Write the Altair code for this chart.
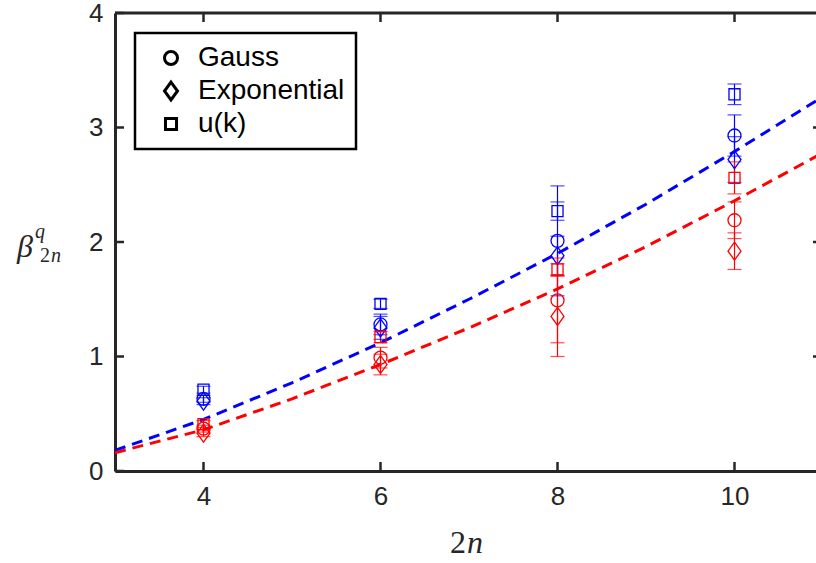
import altair as alt
import pandas as pd

# ---------------- data ----------------
x_pts = [4, 6, 8, 10]
dists = ["Gauss", "Exponential", "u(k)"]

blue_gauss = [0.63, 1.28, 2.01, 2.93]
blue_gauss_err = [0.03, 0.09, 0.48, 0.18]
blue_exp = [0.61, 1.25, 1.88, 2.72]
blue_exp_err = [0.03, 0.10, 0.17, 0.20]
blue_uk = [0.71, 1.46, 2.27, 3.29]
blue_uk_err = [0.03, 0.04, 0.08, 0.09]

red_gauss = [0.37, 0.99, 1.49, 2.19]
red_gauss_err = [0.03, 0.09, 0.37, 0.16]
red_exp = [0.33, 0.93, 1.35, 1.92]
red_exp_err = [0.03, 0.09, 0.35, 0.16]
red_uk = [0.41, 1.17, 1.76, 2.56]
red_uk_err = [0.03, 0.05, 0.05, 0.14]

fit_x = [3, 4, 5, 6, 7, 8, 9, 10, 11]
blue_fit = [0.18, 0.45, 0.77, 1.12, 1.50, 1.90, 2.33, 2.79, 3.27]
red_fit = [0.16, 0.36, 0.63, 0.93, 1.25, 1.59, 1.96, 2.36, 2.78]

x_ticks = [4, 6, 8, 10]
y_ticks = [0, 1, 2, 3, 4]

# ---------------- tables ----------------
rows = []
for series, groups in [
    ("blue", [(blue_gauss, blue_gauss_err), (blue_exp, blue_exp_err), (blue_uk, blue_uk_err)]),
    ("red", [(red_gauss, red_gauss_err), (red_exp, red_exp_err), (red_uk, red_uk_err)]),
]:
    for dist, (vals, errs) in zip(dists, groups):
        for xv, yv, ev in zip(x_pts, vals, errs):
            rows.append({"x": xv, "y": yv, "lo": yv - ev, "hi": yv + ev,
                         "series": series, "dist": dist})
pts = pd.DataFrame(rows)
caps = pd.concat([
    pts.assign(yc=pts["lo"]),
    pts.assign(yc=pts["hi"]),
])

fits = pd.DataFrame(
    [{"x": xv, "y": yv, "series": "blue"} for xv, yv in zip(fit_x, blue_fit)]
    + [{"x": xv, "y": yv, "series": "red"} for xv, yv in zip(fit_x, red_fit)]
)

# ---------------- layout ----------------
W, H = 701, 458
PX_PER_X = 88.5
PX_PER_Y = H / 4.0
XMAX = 3 + W / PX_PER_X
AX = "#262626"
TL = 9  # inward tick length (px)

xs = alt.Scale(domain=[3, XMAX], nice=False, zero=False)
ys = alt.Scale(domain=[0, 4], nice=False, zero=True)
col = alt.Color("series:N", scale=alt.Scale(domain=["blue", "red"], range=["#0000ff", "#ff0000"]),
                legend=None)

diamond = "M0,-1.38L1,0L0,1.38L-1,0Z"
square = "M-0.85,-0.85H0.85V0.85H-0.85Z"
shape_scale = alt.Scale(domain=dists, range=["circle", diamond, square])

x_axis = alt.Axis(values=x_ticks, format="d", title=None, grid=False, ticks=False, labelFontSize=26,
                  labelFont="Liberation Sans", labelColor=AX, labelPadding=12,
                  domainColor=AX, domainWidth=3)
y_axis = alt.Axis(values=y_ticks, format="d", title=None, grid=False, ticks=False, labelFontSize=26,
                  labelFont="Liberation Sans", labelColor=AX, labelPadding=12,
                  domainColor=AX, domainWidth=3)

base_pts = alt.Chart(pts)

lines = alt.Chart(fits).mark_line(strokeDash=[11, 7], strokeWidth=3, clip=True).encode(
    x=alt.X("x:Q", scale=xs, axis=x_axis),
    y=alt.Y("y:Q", scale=ys, axis=y_axis),
    color=col,
    detail="series:N",
)

err = base_pts.mark_rule(strokeWidth=1.2).encode(
    x=alt.X("x:Q", scale=xs),
    y=alt.Y("lo:Q", scale=ys),
    y2="hi:Q",
    color=col,
)

cap = alt.Chart(caps).mark_tick(orient="horizontal", size=14, thickness=1.2).encode(
    x=alt.X("x:Q", scale=xs),
    y=alt.Y("yc:Q", scale=ys),
    color=col,
)

marks = base_pts.mark_point(filled=False, strokeWidth=1.3, size=169, opacity=1).encode(
    x=alt.X("x:Q", scale=xs),
    y=alt.Y("y:Q", scale=ys),
    color=col,
    shape=alt.Shape("dist:N", scale=shape_scale, sort=dists, legend=alt.Legend(
        title=None, orient="none", legendX=20, legendY=20, direction="vertical",
        fillColor="white", strokeColor="black", padding=11,
        labelFont="Liberation Sans", labelFontSize=28, labelColor="black",
        symbolStrokeColor="black", symbolStrokeWidth=3, symbolFillColor="transparent",
        symbolSize=169, symbolOffset=11, labelOffset=13, rowPadding=4,
    )),
)

one = pd.DataFrame({"k": [0]})

top_spine = alt.Chart(one).mark_rule(color=AX, strokeWidth=3).encode(
    x=alt.value(0), x2=alt.value(W), y=alt.value(0))

tick_df_x = pd.DataFrame({"t": x_ticks})
tick_df_y = pd.DataFrame({"t": y_ticks})
tick_df_yr = pd.DataFrame({"t": [1, 2, 3]})

tick_bottom = alt.Chart(tick_df_x).mark_rule(color=AX, strokeWidth=2.5).encode(
    x=alt.X("t:Q", scale=xs), y=alt.datum(0), y2=alt.datum(TL / PX_PER_Y))
tick_top = alt.Chart(tick_df_x).mark_rule(color=AX, strokeWidth=2.5).encode(
    x=alt.X("t:Q", scale=xs), y=alt.datum(4), y2=alt.datum(4 - TL / PX_PER_Y))
tick_left = alt.Chart(tick_df_y).mark_rule(color=AX, strokeWidth=2.5).encode(
    y=alt.Y("t:Q", scale=ys), x=alt.datum(3), x2=alt.datum(3 + TL / PX_PER_X))
tick_right = alt.Chart(tick_df_yr).mark_rule(color=AX, strokeWidth=2.5).encode(
    y=alt.Y("t:Q", scale=ys), x=alt.datum(XMAX - 3 / PX_PER_X), x2=alt.datum(XMAX))

def txt(s, x, y, size, italic=False, font="Liberation Serif"):
    return alt.Chart(one).mark_text(
        text=s, font=font, fontSize=size, fontStyle="italic" if italic else "normal",
        color=AX, align="center", baseline="middle").encode(
        x=alt.value(x), y=alt.value(y))

labels = [
    txt("β", -90, 234, 32, italic=True),
    txt("q", -75, 219, 20, italic=True),
    txt("2", -70, 243, 20),
    txt("n", -59, 243, 20, italic=True),
    txt("2", 343, 530, 32),
    txt("n", 360, 530, 32, italic=True),
]

chart = alt.layer(
    lines, err, cap, marks, top_spine, tick_bottom, tick_top, tick_left, tick_right, *labels
).properties(
    width=W, height=H,
    autosize=alt.AutoSizeParams(type="none"),
    padding={"left": 115, "top": 13, "right": 0, "bottom": 92},
).configure_view(stroke=None).configure_legend(strokeWidth=2.5)

chart.save("out.html", embed_options={"renderer": "svg", "actions": False})
